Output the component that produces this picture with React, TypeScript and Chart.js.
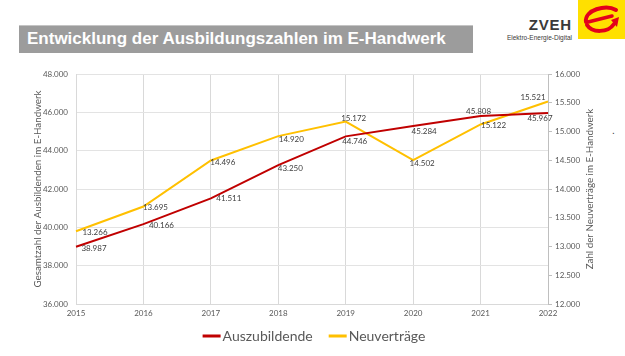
import React, { useEffect, useRef } from "react";
import { Chart, registerables } from "chart.js";

Chart.register(...registerables);

const years = ["2015", "2016", "2017", "2018", "2019", "2020", "2021", "2022"];
const auszubildende = [38987, 40166, 41511, 43250, 44746, 45284, 45808, 45967];
const neuvertraege = [13266, 13695, 14496, 14920, 15172, 14502, 15122, 15521];
const leftMin = 36000;
const leftMax = 48000;
const leftStep = 2000;
const rightMin = 12000;
const rightMax = 16000;
const rightStep = 500;

const seriesNames = ["Auszubildende", "Neuverträge"];
const leftTitle = "Gesamtzahl der Ausbildenden im E-Handwerk";
const rightTitle = "Zahl der Neuverträge im E-Handwerk";

const RED = "#C00000";
const YELLOW = "#FFC000";
const TXT = "#595959";

const fmt = (v: number) => String(Math.round(v)).replace(/\B(?=(\d{3})+(?!\d))/g, ".");

// label offsets (style only) per dataset per point
const labelOffsets = [
  [[18, 2], [18, 1], [18, 0], [12, 3], [9, 5], [11, 5], [-2, -5], [-8, 5]],
  [[19, 1], [12, 1], [12, 2], [13, 3], [8, -3], [9, 3], [13, 1], [-15, -4]],
];

const labelsPlugin = {
  id: "customLabels",
  afterDatasetsDraw(chart: any) {
    const ctx = chart.ctx;
    ctx.save();
    ctx.font = "8px Lato";
    ctx.fillStyle = "#404040";
    ctx.textAlign = "center";
    ctx.textBaseline = "middle";
    chart.data.datasets.forEach((ds: any, di: number) => {
      const meta = chart.getDatasetMeta(di);
      meta.data.forEach((pt: any, i: number) => {
        const [dx, dy] = labelOffsets[di][i];
        ctx.fillText(fmt(ds.data[i]), pt.x + dx, pt.y + dy);
      });
    });
    const ca = chart.chartArea;
    const cy = (ca.top + ca.bottom) / 2;
    // axis titles
    ctx.font = "9.8px Lato";
    ctx.fillStyle = TXT;
    ctx.save();
    ctx.translate(38, cy);
    ctx.rotate(-Math.PI / 2);
    ctx.fillText(leftTitle, 0, 0);
    ctx.restore();
    ctx.save();
    ctx.translate(590, cy);
    ctx.rotate(-Math.PI / 2);
    ctx.fillText(rightTitle, 0, 0);
    ctx.restore();
    // legend
    ctx.font = "14px Lato";
    ctx.textAlign = "left";
    const lineW = 18;
    const gapText = 2;
    const gapItem = 16;
    const colors = [RED, YELLOW];
    const widths = chart.data.datasets.map((ds: any) => ctx.measureText(ds.label).width);
    let total = 0;
    widths.forEach((w: number, i: number) => {
      total += lineW + gapText + w + (i < widths.length - 1 ? gapItem : 0);
    });
    let x = 314 - total / 2;
    const ly = 276;
    chart.data.datasets.forEach((ds: any, i: number) => {
      ctx.fillStyle = colors[i];
      ctx.fillRect(x, ly - 1.5, lineW, 3);
      x += lineW + gapText;
      ctx.fillStyle = TXT;
      ctx.fillText(ds.label, x, ly);
      x += widths[i] + gapItem;
    });
    ctx.restore();
  },
};

function LineChart() {
  const ref = useRef<HTMLCanvasElement | null>(null);
  useEffect(() => {
    if (!ref.current) return;
    const chart = new Chart(ref.current, {
      type: "line",
      data: {
        labels: years,
        datasets: [
          {
            label: seriesNames[0],
            data: auszubildende,
            borderColor: RED,
            backgroundColor: RED,
            borderWidth: 2,
            pointRadius: 0,
            tension: 0,
            yAxisID: "y",
          },
          {
            label: seriesNames[1],
            data: neuvertraege,
            borderColor: YELLOW,
            backgroundColor: YELLOW,
            borderWidth: 2,
            pointRadius: 0,
            tension: 0,
            yAxisID: "y1",
          },
        ],
      },
      options: {
        responsive: false,
        animation: false,
        layout: { padding: { top: 14, left: 0, right: 0, bottom: 38 } },
        plugins: {
          tooltip: { enabled: false },
          legend: { display: false },
        },
        scales: {
          x: {
            type: "category",
            offset: false,
            grid: { color: "#d9d9d9", drawTicks: false },
            border: { color: "#d9d9d9" },
            ticks: { color: TXT, font: { family: "Lato", size: 8 }, padding: 5, maxRotation: 0 },
            afterFit: (s: any) => {
              s.height = 14;
            },
          },
          y: {
            position: "left",
            min: leftMin,
            max: leftMax,
            ticks: {
              stepSize: leftStep,
              color: TXT,
              font: { family: "Lato", size: 8 },
              padding: 8,
              callback: (v: any) => fmt(Number(v)),
            },
            grid: { color: "#e3e3e3", drawTicks: false },
            border: { color: "#d9d9d9" },
            afterFit: (s: any) => {
              s.width = 76;
            },
          },
          y1: {
            position: "right",
            min: rightMin,
            max: rightMax,
            ticks: {
              stepSize: rightStep,
              color: TXT,
              font: { family: "Lato", size: 8 },
              padding: 3,
              callback: (v: any) => fmt(Number(v)),
            },
            grid: { drawOnChartArea: false, tickLength: 4, color: "#bfbfbf" },
            border: { color: "#bfbfbf" },
            afterFit: (s: any) => {
              s.width = 77;
            },
          },
        },
      },
      plugins: [labelsPlugin],
    } as any);
    return () => chart.destroy();
  }, []);
  return <canvas ref={ref} width={625} height={296} style={{ display: "block" }} />;
}

export default function App() {
  return (
    <div
      style={{
        position: "absolute",
        left: 0,
        top: 0,
        width: 625,
        height: 356,
        background: "#ffffff",
        overflow: "hidden",
        fontFamily: "'Liberation Sans', Arial, sans-serif",
      }}
    >
      <div
        style={{
          position: "absolute",
          left: 19,
          top: 25,
          width: 454,
          height: 28,
          background: "#9c9c9c",
          borderTop: "1px solid #c4c4c4",
          boxSizing: "border-box",
          color: "#ffffff",
          fontWeight: "bold",
          fontSize: 17,
          lineHeight: "26px",
          paddingLeft: 8,
          whiteSpace: "nowrap",
        }}
      >
        Entwicklung der Ausbildungszahlen im E-Handwerk
      </div>
      <div
        style={{
          position: "absolute",
          left: 512,
          top: 17,
          fontWeight: "bold",
          fontSize: 15,
          color: "#3a3a3a",
          lineHeight: "15px",
          width: 60,
          textAlign: "right",
          letterSpacing: 0.8,
        }}
      >
        ZVEH
      </div>
      <div
        style={{
          position: "absolute",
          left: 498,
          top: 34,
          width: 74,
          textAlign: "right",
          fontSize: 6.5,
          color: "#3a3a3a",
          lineHeight: "7px",
          whiteSpace: "nowrap",
        }}
      >
        Elektro-Energie-Digital
      </div>
      <svg
        style={{ position: "absolute", left: 578, top: 0 }}
        width={47}
        height={39}
        viewBox="0 0 47 39"
      >
        <rect x={0} y={0} width={47} height={39} fill="#FFE000" />
        <path d="M8 22 C6 10, 28 4, 38 10" stroke="#E3001B" strokeWidth={4} fill="none" strokeLinecap="round" />
        <path d="M10 22 L34 16" stroke="#E3001B" strokeWidth={3.5} strokeLinecap="round" />
        <path d="M9 25 C14 33, 30 33, 36 24" stroke="#E3001B" strokeWidth={4} fill="none" strokeLinecap="round" />
        <path d="M33 20 L41 17 L39 27 Z" fill="#E3001B" />
      </svg>
      <div style={{ position: "absolute", left: 612, top: 125, fontSize: 10, color: "#333" }}>.</div>
      <div style={{ position: "absolute", left: 0, top: 60 }}>
        <LineChart />
      </div>
    </div>
  );
}
